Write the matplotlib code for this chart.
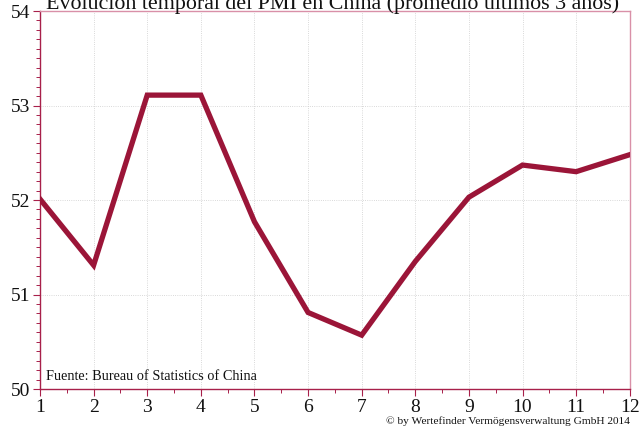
import matplotlib
matplotlib.use("Agg")
import matplotlib.pyplot as plt
from matplotlib.ticker import MultipleLocator

months = [1, 2, 3, 4, 5, 6, 7, 8, 9, 10, 11, 12]
pmi = [52.01, 51.31, 53.11, 53.11, 51.77, 50.81, 50.57, 51.35, 52.03, 52.37, 52.30, 52.48]
title = "Evolución temporal del PMI en China (promedio últimos 3 años)"
source = "Fuente: Bureau of Statistics of China"
copyright_txt = "© by Wertefinder Vermögensverwaltung GmbH 2014"

plt.rcParams['font.family'] = ['Liberation Serif', 'DejaVu Serif']

fig = plt.figure(figsize=(6.4, 4.29), dpi=100)
ax = fig.add_axes([0.0625, 0.0932, 0.9215, 0.8811])

line_color = '#9b1538'
spine_color = '#a8204a'
light_spine = '#d990a8'

ax.plot(months, pmi, color=line_color, lw=3.8, solid_joinstyle='miter', zorder=3)
ax.set_xlim(1, 12)
ax.set_ylim(50, 54)
ax.xaxis.set_major_locator(MultipleLocator(1))
ax.xaxis.set_minor_locator(MultipleLocator(0.5))
ax.yaxis.set_major_locator(MultipleLocator(1))
ax.yaxis.set_minor_locator(MultipleLocator(0.1))

ax.grid(True, which='major', color='#cccccc', linestyle=':', lw=0.6)
for s in ['left', 'bottom']:
    ax.spines[s].set_color(spine_color)
    ax.spines[s].set_linewidth(1.0)
for s in ['top', 'right']:
    ax.spines[s].set_color(light_spine)
    ax.spines[s].set_linewidth(1.0)

ax.tick_params(axis='both', which='major', colors=spine_color, length=5, width=0.8,
               labelcolor='#111111', labelsize=14)
ax.tick_params(axis='both', which='minor', colors=spine_color, length=3, width=0.7)
ax.tick_params(axis='x', pad=2)
ax.tick_params(axis='y', pad=2)

fig.text(0.519, 0.979, title, ha='center', va='baseline', fontsize=15.8, color='#111111')
ax.text(0.01, 0.015, source, transform=ax.transAxes, ha='left', va='bottom', fontsize=10.3, color='#111111')
fig.text(0.985, 0.008, copyright_txt, ha='right', va='bottom', fontsize=8.2, color='#111111')

fig.savefig('out.png', dpi=100)
